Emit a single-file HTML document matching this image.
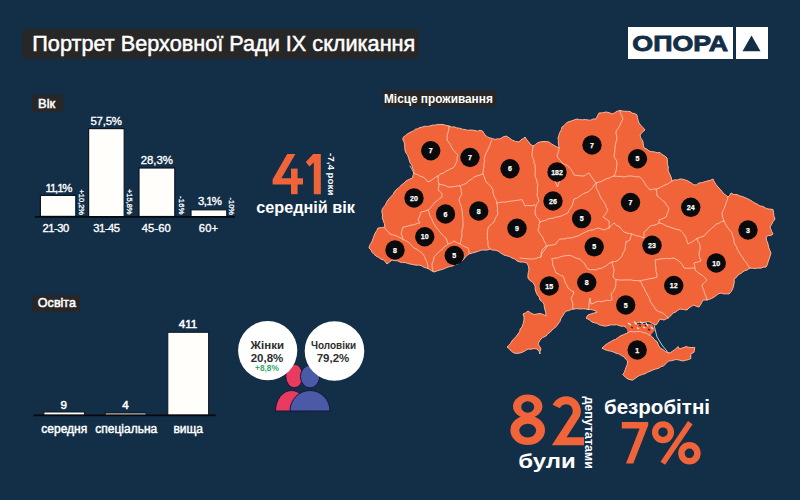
<!DOCTYPE html>
<html lang="uk">
<head>
<meta charset="utf-8">
<title>Портрет Верховної Ради IX скликання</title>
<style>
  html, body { margin: 0; padding: 0; background: #132e47; }
  body { width: 800px; height: 500px; overflow: hidden; font-family: "Liberation Sans", sans-serif; }
  svg { display: block; }
  text { font-family: "Liberation Sans", sans-serif; }
  .w { fill: #ffffff; }
  .o { fill: #f1643a; }
  .b { font-weight: bold; }
  .m { stroke: #ffffff; stroke-width: 0.35px; }
  .cn { fill: #ffffff; font-weight: bold; font-size: 7px; text-anchor: middle; stroke: #ffffff; stroke-width: 0.25px; }
</style>
</head>
<body>
<svg width="800" height="500" viewBox="0 0 800 500">
  <rect x="0" y="0" width="800" height="500" fill="#132e47"/>

  <!-- ===== Title ===== -->
  <g id="title">
    <rect x="22" y="29" width="397" height="30" fill="#272727"/>
    <text x="32.3" y="51" class="w" stroke="#fff" stroke-width="0.5" font-size="22.2" textLength="383" lengthAdjust="spacingAndGlyphs">Портрет Верховної Ради IX скликання</text>
  </g>

  <!-- ===== Logo ===== -->
  <g id="logo">
    <rect x="628" y="27" width="105" height="32" fill="#ffffff"/>
    <rect x="736" y="27" width="32" height="32" fill="#ffffff"/>
    <text x="632.3" y="51.3" class="b" fill="#132e47" stroke="#132e47" stroke-width="0.9" font-size="22.8" textLength="95.8" lengthAdjust="spacingAndGlyphs">ОПОРА</text>
    <polygon points="751.5,35.5 760.5,51.3 742.5,51.3" fill="#132e47"/>
  </g>

  <!-- ===== Age chart ===== -->
  <g id="age">
    <rect x="32" y="94.8" width="31.3" height="17" fill="#272727"/>
    <text x="38" y="107.5" class="w" stroke="#fff" stroke-width="0.5" font-size="12.4" textLength="17.2" lengthAdjust="spacingAndGlyphs">Вік</text>

    <g fill="#fffefb" stroke="#0c1624" stroke-width="1.2">
      <rect x="40.4" y="195.4" width="35.4" height="21"/>
      <rect x="88.6" y="128.6" width="35.6" height="88"/>
      <rect x="139" y="168" width="35.8" height="48.5"/>
      <rect x="191" y="209.8" width="35.8" height="6.8"/>
    </g>
    <rect x="35" y="216" width="200" height="1.7" fill="#07090d"/>

    <g class="w m" font-size="11.4" text-anchor="middle" lengthAdjust="spacingAndGlyphs">
      <text x="59" y="191.8" textLength="27">11,1%</text>
      <text x="106.2" y="124.7" textLength="31.5">57,5%</text>
      <text x="156.8" y="164.1" textLength="32">28,3%</text>
      <text x="210" y="204.7" textLength="24">3,1%</text>
    </g>
    <g class="w m" font-size="11.2" text-anchor="middle" lengthAdjust="spacingAndGlyphs">
      <text x="55.9" y="232.1" textLength="26.8">21-30</text>
      <text x="106.6" y="232.1" textLength="26.8">31-45</text>
      <text x="156.2" y="232.1" textLength="29">45-60</text>
      <text x="208.4" y="232.1" textLength="19.4">60+</text>
    </g>
    <g class="w" font-size="7.5" stroke="#ffffff" stroke-width="0.3" lengthAdjust="spacingAndGlyphs">
      <text transform="translate(78.9,189.5) rotate(90)" textLength="25.5">+10,2%</text>
      <text transform="translate(126.6,189) rotate(90)" textLength="25.5">+15,8%</text>
      <text transform="translate(179.4,196) rotate(90)" textLength="18.5">-16%</text>
      <text transform="translate(229.4,197.5) rotate(90)" textLength="17.5">-10%</text>
    </g>
  </g>

  <!-- ===== 41 average age ===== -->
  <g id="avg">
    <g id="n41" fill="#f1643a">
      <polygon points="287.2,154 295.4,154 281.4,178.3 303,178.3 303,184.4 272.6,184.4 272.6,179.6"/>
      <rect x="291" y="168.6" width="6.6" height="25.6"/>
      <polygon points="313.2,154 320.8,154 320.8,194.2 313.8,194.2 313.8,162.4 309.4,166.6 305.8,162"/>
    </g>
    <text transform="translate(328.4,153) rotate(90)" class="w b" font-size="9.8" textLength="42.5" lengthAdjust="spacingAndGlyphs">-7,4 роки</text>
    <text x="256.2" y="213.2" class="w b" font-size="15.6" textLength="98.8" lengthAdjust="spacingAndGlyphs">середній вік</text>
  </g>

  <!-- ===== Education chart ===== -->
  <g id="edu">
    <rect x="32" y="295.2" width="47.8" height="16.8" fill="#272727"/>
    <text x="37.8" y="307.3" class="w" stroke="#fff" stroke-width="0.5" font-size="12.2" textLength="38.2" lengthAdjust="spacingAndGlyphs">Освіта</text>

    <g fill="#fffefb" stroke="#0c1624" stroke-width="1">
      <rect x="43.9" y="412" width="40.6" height="3.2"/>
      <rect x="105.2" y="413" width="40.9" height="2.2"/>
      <rect x="167.8" y="332.3" width="40.8" height="82.8"/>
    </g>
    <rect x="33.5" y="414.5" width="182" height="1.7" fill="#07090d"/>

    <g class="w" stroke="#fff" stroke-width="0.5" font-size="11.6" text-anchor="middle">
      <text x="63.8" y="408.8">9</text>
      <text x="125.5" y="408.8">4</text>
      <text x="188" y="328" textLength="18.5">411</text>
    </g>
    <g class="w" stroke="#fff" stroke-width="0.45" font-size="12" text-anchor="middle">
      <text x="64.3" y="433">середня</text>
      <text x="126.3" y="433">спеціальна</text>
      <text x="188.2" y="433">вища</text>
    </g>
  </g>

  <!-- ===== Gender ===== -->
  <g id="gender">
    <ellipse cx="294.3" cy="376" rx="8.6" ry="11.8" fill="#e93a60" stroke="#17173f" stroke-width="1"/>
    <ellipse cx="310" cy="376.6" rx="9.6" ry="11.3" fill="#4b5aa6" stroke="#17173f" stroke-width="1"/>
    <path d="M275.5,411 A16,20.5 0 0 1 307.5,411 Z" fill="#e93a60" stroke="#17173f" stroke-width="1"/>
    <path d="M290,411 A20,20.5 0 0 1 330,411 Z" fill="#4b5aa6" stroke="#17173f" stroke-width="1"/>
    <circle cx="267.7" cy="350.6" r="29.6" fill="#ffffff"/>
    <circle cx="334.5" cy="351" r="29.8" fill="#ffffff"/>
    <text x="267.3" y="348.6" fill="#2e2e2e" class="b" font-size="11.5" text-anchor="middle">Жінки</text>
    <text x="267" y="362.4" fill="#2e2e2e" class="b" font-size="11.5" text-anchor="middle">20,8%</text>
    <text x="267" y="371.2" fill="#35a868" class="b" font-size="8.3" text-anchor="middle">+8,8%</text>
    <text x="333.5" y="348.6" fill="#2e2e2e" class="b" font-size="11.5" text-anchor="middle" textLength="45" lengthAdjust="spacingAndGlyphs">Чоловіки</text>
    <text x="333" y="362.4" fill="#2e2e2e" class="b" font-size="11.5" text-anchor="middle">79,2%</text>
  </g>

  <!-- ===== Map label ===== -->
  <g id="maplabel">
    <rect x="382.7" y="90.3" width="113.5" height="16.6" fill="#272727"/>
    <text x="384" y="102.9" class="w b" font-size="12.2" textLength="108.8" lengthAdjust="spacingAndGlyphs">Місце проживання</text>
  </g>

  <!-- ===== Map ===== -->
  <g id="map">
    <polygon points="403,137.5 405.5,135.5 408.1,133.5 411,132 413.3,131 415.3,129.3 417.8,128.7 420,127.5 422.5,127 424.9,126.2 427.5,126.4 430,126 432.4,125.1 435,125.2 437.4,124.4 440,124.5 443.1,124.5 446,125.4 449,126 451.6,127 454.4,126.9 457,128 459.7,128.2 462.3,129.2 465,129.5 467.4,130.3 470,130.1 472.5,130.1 475,130.5 477.5,131.2 480,130.3 482.5,131 485,135 487.3,136.9 490,138 492.6,138.5 495,139.5 497.5,138.8 500,139 502.8,137.1 506,136 509.1,137.8 512,140 515.4,141.4 519,142 520.8,140 523.1,138.7 525,137 526.5,139.4 528.5,141.6 530,144 533,146 535.4,144.7 537.4,142.9 540,142 543,141.5 546,141.6 549,142 551.9,144.2 555,146 559,148 558.7,145.5 558.3,143 558.4,140.5 558,138 558.9,135.2 559.8,132.4 561.3,129.9 562,127 564.2,125.5 565.8,123.4 568,122 571,121.1 574,120 577,119 579.7,119.7 582.5,119.8 585.3,119.5 588,120 590.7,120.2 593.3,118.9 596,119 597.4,116 599,113 602.5,112.8 606,112 609.1,112.6 612,114 614.7,112.8 617.1,111.2 620,110.5 622.5,111 625,111.3 627.5,111.3 630,111.5 632.1,113.1 634.8,113.6 637,115 637.4,117.7 638.2,120.4 639,123 640.9,125.4 643,127.6 645,130 642.2,132.2 640,135 640.5,137.5 642,139.7 643,142 643.3,145 644,148 646.8,149 649,151 651.7,151.6 654.5,151.9 657.2,152.7 660,152.5 662.1,154.6 664.8,156 667,158 667.4,161 667.3,164 668.3,167 668,170 669,172.7 670.4,175.4 671.4,178.1 672,181 674.5,179.8 677.4,180 680,179 682.8,179.2 685.4,180 688,181 691.1,182.9 694,185 696.6,184.7 698.9,183 701.5,182.7 704,182 707,181.1 710.1,180.4 713,179 714.3,181.9 716,184.6 718,187 720.2,189.2 722.1,191.6 724,194 726.1,195.4 728,197 729.9,195.3 731,193 733.8,194.5 737.1,194.6 740,196 742.6,196.6 745.1,197.7 747.6,198.7 750,200 752.5,201.5 754.9,203.1 757.6,204.3 760,206 762.9,206.4 765.4,207.9 768,209 770.5,209.1 773,209.5 773.6,212.7 773.8,215.9 775,219 773.1,221.5 771.7,224.3 770,227 770.9,229.4 771.8,231.7 773,234 770.9,235.5 768.1,235.6 766,237 766.7,240.6 768,244 768.6,247.1 769.7,250.1 771,253 770.1,256 769.1,259 768,262 767.4,264.7 766,267 763.3,267.2 760.7,268.2 758,268 755.3,268.5 752.7,268.3 750,268 747.2,269.9 744,271 741.1,273.2 738,275 736.4,277.4 734,279 734.3,282.1 733.7,285 733,288 731.4,291.3 729,294 726.3,293.8 723.6,293.9 721,293 718.4,293.9 716.3,295.5 714,297 711.8,298.4 709.5,299.3 707,300 703,300 701.8,302.4 700.5,304.7 699,307 696.3,306.4 694,305 691.4,306.3 689,307.9 687,310 683.5,309.5 680,309 677.7,310.4 675.6,312.1 673,313 670.8,315.8 668,318 664,320 660,319 658.2,322.1 656,325 652.9,323.8 650,322 647.5,321.6 645,322.4 642.5,322.6 640,322 637.1,322.8 634.7,324.6 632,326 630.8,328.3 629,330 626.5,328 624,326 621.4,326.3 619,325.5 616.6,324.7 614,325 611.5,324.8 609,325.3 606.5,326 604,326 601.5,325.4 599.1,324.8 596.9,323.3 594.4,322.8 592,322 589.2,319.7 586,318 588,315 590.9,314 593.9,313 597,312.5 596,311 593.4,310.1 590.8,309.4 588,309.5 585.4,308.9 582.7,308.8 580,309 577,308.6 574,309 571.3,309.4 568.7,310.7 566,311 564.3,313.3 562.8,315.8 561,318 560,321.3 558,324 556.4,326.4 554.2,328.2 552,330 550.2,332.2 547.8,333.8 546,336 542.7,337.5 540,340 538,344 539.6,346.5 541,349 540,351.4 540,354 539,351.2 537,349 534,348.5 531,349.2 528,349 525.5,350.6 522.8,352 520,353 517,353.4 514,353 511.4,351.3 509.4,348.9 507,347 509,345.3 510.6,343.3 512,341 514,338.7 516.1,336.5 518,334 519.6,331.8 520.2,329.1 522,327 523.2,323.6 524,320 524,316.9 523,314 525.7,312.8 528,311 530.8,313 534,314.5 537,314 540,313.5 543.1,314.4 546,316 545.8,312.9 545,310 544.3,307 544,304 542.3,301.7 540,300 539.2,297.1 537.2,294.7 536,292 535.2,289.4 535.2,286.5 534,284 532.2,281.8 529.7,280.3 528,278 527.9,275.3 528.3,272.6 529,270 528.5,266.4 527,263 523.6,262.1 520,262 517.1,261 514.8,259 512,258 509.5,256.5 506.7,255.8 504,255 500.9,253.1 498,251 495.3,250.3 492.6,250.1 490,249 487.1,250.1 484,250 481.2,250.1 478.6,251.2 476,252 472.5,253 469,254 466.1,256.1 464,259 462.1,260.7 459.7,262 458,264 455.4,264.4 453.1,265.8 450.6,266.5 448,267 445.4,268.2 442.8,269.3 440,270 437,270.9 434,272 431.4,270.7 429,269 426.6,268.1 424.2,267.4 422,266 419.1,265 416,265.2 413,264.5 410,264 407.5,263.4 405.1,262.5 402.5,262.6 400,262 397.5,260.8 394.7,260.7 392,260 389.5,262 387,264 385.5,262 384,260 381.1,259.2 378.6,257.4 376,256 374,254.3 372.1,252.4 371,249.8 369,248 369.6,245.4 371,243.2 372.2,240.9 373.1,238.4 374,236 375.1,233.2 376.7,230.7 378,228 381.5,227.6 385,227 384.3,223.4 383,220 382.3,217.5 382.6,215 381.9,212.5 382,210 383.3,207.4 385.3,205.2 386.5,202.5 388,200 389.7,198 391.4,196.2 393.2,194.3 394.3,192 396,190 398.1,188.3 400,186.4 402,184.6 404.2,183 406,181 409.2,179.4 412.5,178 413.3,174.5 414,171 412.6,168.2 411.8,165.1 410,162.5 409.2,159.9 408.4,157.3 407.5,154.8 405.7,152.6 405,150 404.7,147.5 404.7,144.9 404.2,142.4 403,140.1" fill="#f1643a" stroke="#f9b59c" stroke-width="1" stroke-linejoin="round"/>
    <polygon points="626,326 634,324 652,324 655,330 650,336 628,334" fill="#f1643a"/>
    <polygon points="602,348.2 604.6,345.5 607.6,343.4 610.2,342 612.7,340.4 615.6,339.4 618.1,337.6 620.7,335.8 623.6,334.6 626.9,333.2 630,331.4 632.7,331.7 635.3,331.8 638,331.4 640.7,331.6 643.3,332.7 646,333 648,334.5 650.5,335.4 652.4,337 654.5,339.7 657.2,341.8 658.4,345.2 660.4,348.2 663,349.6 665.2,351.4 667.5,352.6 670,353 672.3,351.3 674.8,349.8 678,346.6 679.6,349 682.8,347.8 686,346.6 688.9,347.4 691.8,347.5 694.8,347.4 694,352.2 690.8,353.8 690.8,358.6 688.2,359.7 685.5,360.3 682.8,361 679.6,360.2 676.4,359.4 673.8,360.1 671.1,360.8 668.4,361 666.1,363.5 663.6,365.8 660.9,366.7 658.4,368.4 655.6,369 652.9,370 650.3,371.2 647.6,372.2 645.1,373.7 642.3,374.5 639.6,375.4 637.1,376.9 634.8,378.6 632.4,380.2 629,379.4 626,377.8 622.8,374.6 624.3,372.4 625.2,369.9 626,367.4 627.3,364.3 627.6,361 625.7,359.2 624.4,357 621.5,355.6 618.8,353.8 616.3,353.4 614,352.2 610.9,351.1 607.6,350.6 604.7,349.6" fill="#f1643a" stroke="#f9b59c" stroke-width="1" stroke-linejoin="round"/>
    <g id="syvash">
      <polyline points="654,325 657,337 662,345 668.4,353" fill="none" stroke="#e9eef2" stroke-width="0.8"/>
      <path d="M628,323 l3,2 M634,321.5 l2.5,3 M640,322 l3,1.5 M646,323 l2,3 M651,327 l2,2 M643,327 l2.5,1 M637,327.5 l2,1.5" stroke="#fbe9df" stroke-width="1.2" fill="none"/>
      <path d="M631,327 l2,1 M639,325 l2,1 M648,329 l2,1.5 M645,325 l1,1.5" stroke="#132e47" stroke-width="1.2" fill="none"/>
    </g>
    <g id="borders" fill="none" stroke="#fbc3ad" stroke-width="0.9" stroke-linejoin="round" stroke-linecap="round">
      <polyline points="449,126 449,128.9 448.3,131.6 447.4,134.3 447.1,137.2 447,140 448.9,142.5 450.6,145.1 452,148 453.7,150.6 455.9,152.7 458,155 457.1,157.6 457.1,160.4 456,163 454.9,165.7 453,168 450.6,168.8 448.4,170.1 446,171 443.6,173 440.4,174 438,176"/>
      <polyline points="410,166 411.6,168.7 413.1,171.5 415,174 417.8,174.6 420.2,176.3 423,177 425.8,179.2 428,182 430.7,180.8 433,179 435.4,177.4 438,176"/>
      <polyline points="438,176 438.3,178.7 438.2,181.4 439,184 438.7,187 438,190 440.3,191.7 442,194 442,197 439.7,198.6 437.5,200.5 435,202 433.5,204.3 431.8,206.2 430.1,208.3 428,210 424.6,211.3 421,212 420.2,214.7 419.2,217.4 418,220 420,223 417.3,223.4 414.7,224.5 412,225 409,225.7 406.1,226.6 403,227 402.1,230.5 401,234 402.5,236.8 403,240"/>
      <polyline points="439,184 442.1,184.8 445.2,185.5 448,187 451,187 454,186.6 457,185.9 460,186 462.7,184.6 465.5,183.7 468,182 469.7,180 472.2,178.9 474,177 477,175.9 480,175 483,174"/>
      <polyline points="492,140 490.7,142.2 490.1,144.7 489,147 487.7,150 486.2,152.9 485,156 484.3,158.5 484.7,161 483.9,163.5 484,166 483.5,168.6 483.2,171.3 483,174 484.1,176.6 485.1,179.3 486,182 488.3,183.7 490.3,185.7 492,188 493.1,190.6 493.1,193.4 494,196 495.2,198.2 496.3,200.5 497,203"/>
      <polyline points="460,186 461.1,188.6 461,191.4 462,194 460.2,196.8 459,200 459.6,202.5 460.7,204.9 461.5,207.4 462,210 462.4,212.8 462.4,215.6 462.9,218.4 462.9,221.2 463,224 463,227 462,230 461.8,233 462,236 461.3,238.7 460.9,241.4 460,244"/>
      <polyline points="385,228 386.3,230.3 388.5,231.9 390,234 392.8,234.9 395.7,235.5 398.3,236.9 401,238 403.3,239.3 405.7,240.7 408,242 410.2,243.8 412,246 414,248 416.9,249.2 419.5,251.1 422,253 423.7,255.1 424.8,257.6 426,260 427.1,262.6 427.8,265.2 428,268"/>
      <polyline points="428,210 429.2,212.9 430,216 431.6,218.5 432.6,221.4 434,224 435.5,226 436.8,228.2 438.4,230.1 440,232 441.8,234.2 443.7,236.3 446,238 447.1,241 448,244 446.1,245.9 443.7,247.1 442.2,249.5 440,251 437.8,252.8 435.9,254.9 434,257 433.4,260.6 432,264 432.2,267.5 433,271"/>
      <polyline points="448,244 451.2,242.9 454,241 456.9,242.6 460,244 462.6,245.5 465.2,246.9 468,248 468.9,250.4 469,253"/>
      <polyline points="497,203 497.2,205.8 497.5,208.5 497.4,211.3 498,214 496.4,216.5 495,219.2 494,222 491.9,223.9 489.7,225.7 488,228 487.6,230.5 487.3,233 487.5,235.5 487,238 487.8,240.6 488,243.3 488,246 490,249"/>
      <polyline points="497,203 499.7,202.5 502.4,201.9 505.3,202.2 508,201.5 510.8,201.2 513.6,200.8 516.4,200.4 519.2,200.1 522,199.5 523.5,202.7 525,206 527.5,205.3 530,205.8 532.5,205.5 535,205"/>
      <polyline points="533,146 532.7,149 532.3,152 532,155 532.6,157.5 533.9,159.9 534,162.6 535,165 535.2,167.5 535.4,170 535.2,172.5 535,175 535.5,177.6 536.8,179.9 537,182.6 538,185 537.3,187.5 537.5,190 537.4,192.5 537,195 538,198 539,201 537.3,203.4 536,206 535.4,208.6 535.2,211.3 535,214 536.5,216.7 538.7,219.1 540,222"/>
      <polyline points="559,148 558.7,150.8 557.9,153.4 557,156 558.5,158.5 560.5,160.6 562,163 564.3,164.4 566.9,165.2 569,167 571,169.4 572.5,172.2 574,175 576.5,175.4 579,175.7 581.5,175.9 584,176 586.4,174.3 589,173 591,176 593,179 594.5,181 596,183"/>
      <polyline points="555,181 556.3,184 557.5,187 558.4,183.9 560,181"/>
      <polyline points="596,183 594.2,184.8 593,187 590.7,189.7 588,192 585.1,192.9 582.5,194.3 580,196 577.2,197.9 574,199 573,202.5 572,206 570.4,208.2 568.9,210.4 568,213 565.5,214 563.1,215.2 560.6,216.3 558,217 555.4,217.1 553.1,218.3 550.5,218.4 548,219 545.5,220.3 542.7,221 540,222"/>
      <polyline points="540,222 538.9,224.6 539,227.4 538,230 539.4,232.8 541.3,235.3 543,238 544,240.8 545.5,243.4 547,246 545.2,249.1 543,252 541.6,254.4 541,257 538.3,257.5 535.6,258.5 532.8,259 530,259 527.5,258.8 525,258.5 522.5,258.4 520,258"/>
      <polyline points="541,257 541.1,253.4 542,250 543.9,247.9 546,246"/>
      <polyline points="547,246 550,245.2 553.1,245 556,244 557.6,241.2 560,239 562.5,239 565,238.8 567.5,237.9 570,238 572.6,237.7 575.1,236.7 577.6,236.1 580,235 582.6,233.5 585.3,232.2 588,231 590.5,230.1 593.1,230 595.5,228.8 598,228 601,228.9 604,230 606.5,228.9 609,228"/>
      <polyline points="596,183 596.2,185.5 596,188 597.7,190.5 599,193.2 600,196 601.7,199.2 604,202 605.5,204.6 606.3,207.5 608,210 606.5,212.5 604.9,214.8 603,217 606,219 609,221 609.3,224.5 609,228"/>
      <polyline points="609,228 611.4,225.4 614,223 616.7,225.4 620,227 621.7,229.7 624,232 626.6,233 629.3,233.5 632,234 630.6,236.9 630,240 626,242"/>
      <polyline points="620,110.5 620.6,113.5 622,116.2 623,119 621.3,121.9 620,125 618.4,128.2 616,131 616.1,133.7 616.7,136.3 617,139 616.1,141.6 615.5,144.3 615,147 614.9,149.7 614.8,152.4 614,155 614.6,157.8 616.3,160.2 617,163 616.7,165.7 616.5,168.4 616,171 615.2,173.6 614,176"/>
      <polyline points="596,183 598.8,182.2 601.5,181.4 604,180 606.4,178.8 609.1,178.1 611.4,176.8 614,176"/>
      <polyline points="614,176 616.5,176.3 619,176.4 621.5,176.4 624,177 626.6,176.3 629.3,176 632,176 634.6,176.7 637.3,176.7 640,177 642.2,179.3 644,182 645.2,184.2 646.6,186.3 648.5,188 650,190 652.9,189.1 656,189"/>
      <polyline points="672,181 669.8,182.6 667.5,184 665,185 662.1,186.5 659.2,188 656,189 656.8,192.5 657,196 659.1,197.3 661,199.1 662.8,200.8 665,202 666.1,204.5 667.7,206.6 669,209 668.1,211.7 667,214.3 666,217 663.7,218.1 661.4,219.1 659,220 659,223 656.7,224.4 654.1,225.2 651.3,225.6 649,227 646.8,229.8 644,232 644,235 644,238 641.6,237.1 639.3,236.1 636.7,235.9 634.3,235 632,234"/>
      <polyline points="728,197 727.2,200.1 726.1,203 725,206 724.1,208.7 722.6,211.2 722,214 722.7,217.6 724,221"/>
      <polyline points="724,221 721.2,221.7 718.8,223.4 716,224 714.3,226.3 711.9,227.9 710,230 707.7,231.7 706,234 704,236 700.5,237.2 697,238.5"/>
      <polyline points="659,223 661.9,223.5 664.5,224.9 667.1,226.4 670,227 672.4,228.1 674.9,228.8 677.4,229.7 680,230 681.9,231.8 683.6,233.7 685,236 686.3,238.5 687,241.3 688,244 690.3,242.8 692.7,241.6 694.9,240.1 697,238.5"/>
      <polyline points="724,221 725.2,223.4 726.4,225.8 728,228 730,230.5 732,233 732.6,236 733.8,238.9 734,242 735,244.6 736.7,246.9 737.4,249.7 739,252 740.5,254.7 742.5,257.2 744,260 745.8,261.8 747.2,263.9 748.4,266.1 750,268"/>
      <polyline points="697,238.5 697.8,241.1 699.4,243.4 700,246 700.1,249 699.3,252 699,255 699.9,258 701,261 697.5,262.1 694,263 694.8,266.5 695,270 697.4,272.1 700,274 702.7,275.6 704.8,277.8 707,280 704.5,282.5 702,285 702.6,287.9 703.9,290.5 704.6,293.4 706,296 707,300"/>
      <polyline points="694,268 691.5,268 689,268.3 686.5,268.3 684,268 682.4,264.7 680,262 677.1,259.8 674,258 671.5,258.3 669,258.7 666.5,258.4 664,258.5 661,258.8 658,259.6 655,260 655.6,262.6 655.5,265.4 656,268 655.9,271 656.9,274 657,277 654.1,278.1 651,278.5 648,279 645.4,279.7 642.6,280.2 640,281"/>
      <polyline points="640,281 641.6,283.2 642.4,285.8 644,288 645.1,290.8 646.7,293.3 648,296 649.6,298.5 650.2,301.5 652,304 654.2,306.9 656,310 658.5,311.6 661.5,312.4 664,314 666.2,315.8 668,318"/>
      <polyline points="640,281 637,280.5 634,280.7 631,279.8 628,280 625,279.9 622,280.1 619,279.9 616,279.5"/>
      <polyline points="626,242 625.7,244.7 625.2,247.3 625,250 623.1,252.8 622,256 619.8,258.8 617,261 614.5,261.6 612,262"/>
      <polyline points="552,259 554.6,258.1 557.4,258.1 560,257 562.4,256.3 564.9,255.8 567.4,255.4 570,255.5 572.5,256.3 574.9,257.6 577.4,258.5 580,259 582.3,261.7 585,264 586.1,266.8 588,269 590.6,269.8 593.4,269.5 596,270 598.4,268.7 601.2,268.4 603.6,267.2 606,266 608.7,263.6 612,262"/>
      <polyline points="612,262 612.5,264.7 613.5,267.3 614,270 613.6,273.5 613,277 616,280 615.8,282.7 615.7,285.4 615,288 613.4,291.3 611,294 611.7,297 612,300 609.4,300.5 606.6,300.2 604,301 601.4,301.7 598.6,301.2 596,302 593.6,303.3 591,304 590.4,301 590,298 589.3,301 589,304 589,307 588,309.5"/>
      <polyline points="552,259 552.6,262.5 553,266 554.4,268.2 555,270.7 556,273 558.4,273.9 560.5,275.4 563,276 564.3,278.9 565,282 566.6,284.9 568,288 570.8,290.3 574,292 572.9,295.2 571,298 572.1,301 573,304 572.7,306.5 573,309"/>
    </g>
    <g id="dots">
      <circle cx="430.75" cy="150.75" r="9.7" fill="#0a0a0c"/><text x="430.75" y="153.25" class="cn">7</text>
      <circle cx="470" cy="157.5" r="9.7" fill="#0a0a0c"/><text x="470" y="160" class="cn">7</text>
      <circle cx="510" cy="168.75" r="9.7" fill="#0a0a0c"/><text x="510" y="171.25" class="cn">6</text>
      <circle cx="557" cy="172" r="9.7" fill="#0a0a0c"/><text x="557" y="174.5" class="cn">182</text>
      <circle cx="592" cy="145" r="9.7" fill="#0a0a0c"/><text x="592" y="147.5" class="cn">7</text>
      <circle cx="637.5" cy="158.75" r="9.7" fill="#0a0a0c"/><text x="637.5" y="161.25" class="cn">5</text>
      <circle cx="414" cy="198" r="9.7" fill="#0a0a0c"/><text x="414" y="200.5" class="cn">20</text>
      <circle cx="445.5" cy="214" r="9.7" fill="#0a0a0c"/><text x="445.5" y="216.5" class="cn">6</text>
      <circle cx="478.75" cy="211" r="9.7" fill="#0a0a0c"/><text x="478.75" y="213.5" class="cn">8</text>
      <circle cx="553" cy="201" r="9.7" fill="#0a0a0c"/><text x="553" y="203.5" class="cn">26</text>
      <circle cx="630.5" cy="202.5" r="9.7" fill="#0a0a0c"/><text x="630.5" y="205" class="cn">7</text>
      <circle cx="690.75" cy="207.3" r="9.7" fill="#0a0a0c"/><text x="690.75" y="209.8" class="cn">24</text>
      <circle cx="581.6" cy="218.6" r="9.7" fill="#0a0a0c"/><text x="581.6" y="221.1" class="cn">5</text>
      <circle cx="517" cy="228.25" r="9.7" fill="#0a0a0c"/><text x="517" y="230.75" class="cn">9</text>
      <circle cx="424.75" cy="236.75" r="9.7" fill="#0a0a0c"/><text x="424.75" y="239.25" class="cn">10</text>
      <circle cx="395" cy="250" r="9.7" fill="#0a0a0c"/><text x="395" y="252.5" class="cn">8</text>
      <circle cx="454.25" cy="255.5" r="9.7" fill="#0a0a0c"/><text x="454.25" y="258" class="cn">5</text>
      <circle cx="594.2" cy="246.8" r="9.7" fill="#0a0a0c"/><text x="594.2" y="249.3" class="cn">5</text>
      <circle cx="652" cy="245.3" r="9.7" fill="#0a0a0c"/><text x="652" y="247.8" class="cn">23</text>
      <circle cx="748" cy="230" r="9.7" fill="#0a0a0c"/><text x="748" y="232.5" class="cn">3</text>
      <circle cx="716.25" cy="263" r="9.7" fill="#0a0a0c"/><text x="716.25" y="265.5" class="cn">10</text>
      <circle cx="673.75" cy="285.5" r="9.7" fill="#0a0a0c"/><text x="673.75" y="288" class="cn">12</text>
      <circle cx="625.75" cy="305" r="9.7" fill="#0a0a0c"/><text x="625.75" y="307.5" class="cn">5</text>
      <circle cx="586.75" cy="282.5" r="9.7" fill="#0a0a0c"/><text x="586.75" y="285" class="cn">8</text>
      <circle cx="549.25" cy="286" r="9.7" fill="#0a0a0c"/><text x="549.25" y="288.5" class="cn">15</text>
      <circle cx="637.2" cy="350" r="9.7" fill="#0a0a0c"/><text x="637.2" y="352.5" class="cn">1</text>
    </g>
  </g>

  <!-- ===== Bottom stats ===== -->
  <g id="stats">
    <g id="n82">
      <ellipse cx="527.7" cy="406.3" rx="14.7" ry="11.9" fill="#f1643a"/>
      <ellipse cx="527.7" cy="430.3" rx="17.3" ry="14.8" fill="#f1643a"/>
      <ellipse cx="527.7" cy="407" rx="6.5" ry="5.7" fill="#132e47"/>
      <ellipse cx="527.7" cy="430.6" rx="8.4" ry="6.8" fill="#132e47"/>
      <path d="M556.2,406.5 A10.8,10.8 0 1 1 575.8,415.6 L559.2,441.2 L584,441.2" fill="none" stroke="#f1643a" stroke-width="8" stroke-linejoin="miter" stroke-miterlimit="10"/>
    </g>
    <text x="518.3" y="468.4" class="w b" font-size="21" textLength="57.5" lengthAdjust="spacingAndGlyphs">були</text>
    <text transform="translate(584.5,396.4) rotate(90)" class="w b" font-size="12.4" textLength="72.5" lengthAdjust="spacingAndGlyphs">депутатами</text>
    <text x="604" y="413.8" class="w b" font-size="20.5" textLength="106" lengthAdjust="spacingAndGlyphs">безробітні</text>
    <g id="n7p">
      <polygon points="621.8,422 648.2,422 648.2,425.2 633.3,463.5 626,463.5 639.6,428.6 621.8,428.6" fill="#f1643a"/>
      <circle cx="663" cy="432.2" r="7.9" fill="none" stroke="#f1643a" stroke-width="6.3"/>
      <circle cx="689.4" cy="453.3" r="8" fill="none" stroke="#f1643a" stroke-width="6.5"/>
      <line x1="690.3" y1="422.6" x2="662.8" y2="463.2" stroke="#f1643a" stroke-width="5.6"/>
    </g>
  </g>
</svg>
</body>
</html>
